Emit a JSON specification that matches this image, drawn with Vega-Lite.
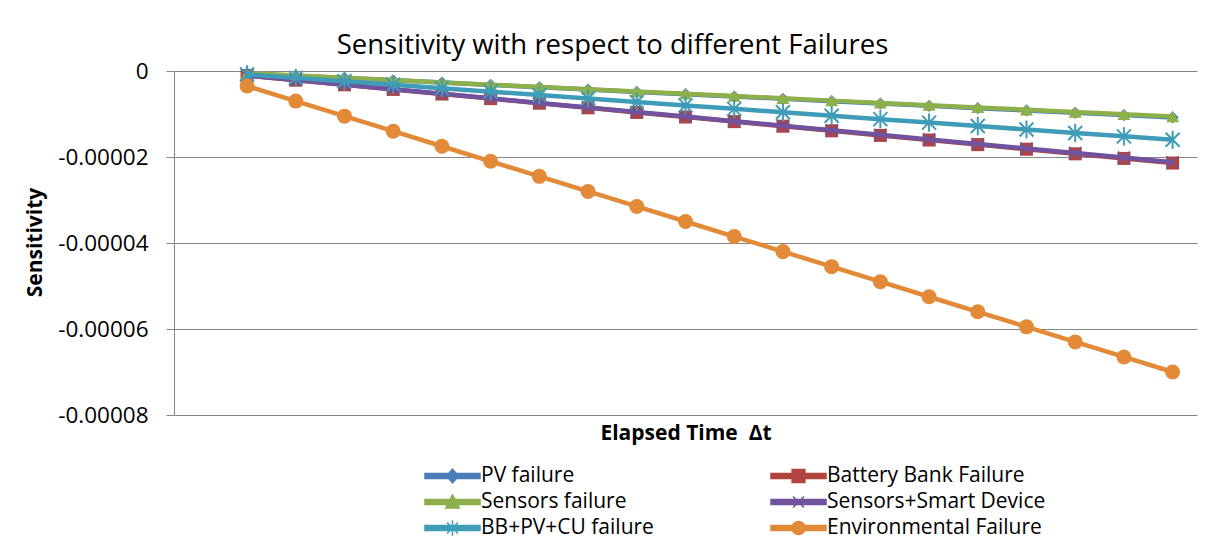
{
  "$schema": "https://vega.github.io/schema/vega-lite/v6.json",
  "width": 1023,
  "height": 344,
  "autosize": {"type": "none"},
  "padding": {"left": 174, "top": 71, "right": 16, "bottom": 128},
  "background": "white",
  "config": {
    "font": "Open Sans",
    "view": {"stroke": null}
  },
  "title": {
    "text": "Sensitivity with respect to different Failures",
    "fontSize": 27.5,
    "fontWeight": "normal",
    "color": "#000000",
    "anchor": "middle",
    "frame": "group",
    "dx": -73,
    "offset": -21,
    "baseline": "alphabetic"
  },
  "data": {
    "values": [
      {"t": 1, "PV failure": -0.00000054, "Battery Bank Failure": -0.00000107, "Sensors failure": -0.00000053, "Sensors+Smart Device": -0.00000106, "BB+PV+CU failure": -0.0000008, "Environmental Failure": -0.0000035},
      {"t": 2, "PV failure": -0.00000108, "Battery Bank Failure": -0.00000214, "Sensors failure": -0.00000106, "Sensors+Smart Device": -0.00000212, "BB+PV+CU failure": -0.0000016, "Environmental Failure": -0.000007},
      {"t": 3, "PV failure": -0.00000162, "Battery Bank Failure": -0.00000321, "Sensors failure": -0.00000159, "Sensors+Smart Device": -0.00000318, "BB+PV+CU failure": -0.0000024, "Environmental Failure": -0.0000105},
      {"t": 4, "PV failure": -0.00000216, "Battery Bank Failure": -0.00000428, "Sensors failure": -0.00000212, "Sensors+Smart Device": -0.00000424, "BB+PV+CU failure": -0.0000032, "Environmental Failure": -0.000014},
      {"t": 5, "PV failure": -0.0000027, "Battery Bank Failure": -0.00000535, "Sensors failure": -0.00000265, "Sensors+Smart Device": -0.0000053, "BB+PV+CU failure": -0.000004, "Environmental Failure": -0.0000175},
      {"t": 6, "PV failure": -0.00000324, "Battery Bank Failure": -0.00000642, "Sensors failure": -0.00000318, "Sensors+Smart Device": -0.00000636, "BB+PV+CU failure": -0.0000048, "Environmental Failure": -0.000021},
      {"t": 7, "PV failure": -0.00000378, "Battery Bank Failure": -0.00000749, "Sensors failure": -0.00000371, "Sensors+Smart Device": -0.00000742, "BB+PV+CU failure": -0.0000056, "Environmental Failure": -0.0000245},
      {"t": 8, "PV failure": -0.00000432, "Battery Bank Failure": -0.00000856, "Sensors failure": -0.00000424, "Sensors+Smart Device": -0.00000848, "BB+PV+CU failure": -0.0000064, "Environmental Failure": -0.000028},
      {"t": 9, "PV failure": -0.00000486, "Battery Bank Failure": -0.00000963, "Sensors failure": -0.00000477, "Sensors+Smart Device": -0.00000954, "BB+PV+CU failure": -0.0000072, "Environmental Failure": -0.0000315},
      {"t": 10, "PV failure": -0.0000054, "Battery Bank Failure": -0.0000107, "Sensors failure": -0.0000053, "Sensors+Smart Device": -0.0000106, "BB+PV+CU failure": -0.000008, "Environmental Failure": -0.000035},
      {"t": 11, "PV failure": -0.00000594, "Battery Bank Failure": -0.00001177, "Sensors failure": -0.00000583, "Sensors+Smart Device": -0.00001166, "BB+PV+CU failure": -0.0000088, "Environmental Failure": -0.0000385},
      {"t": 12, "PV failure": -0.00000648, "Battery Bank Failure": -0.00001284, "Sensors failure": -0.00000636, "Sensors+Smart Device": -0.00001272, "BB+PV+CU failure": -0.0000096, "Environmental Failure": -0.000042},
      {"t": 13, "PV failure": -0.00000702, "Battery Bank Failure": -0.00001391, "Sensors failure": -0.00000689, "Sensors+Smart Device": -0.00001378, "BB+PV+CU failure": -0.0000104, "Environmental Failure": -0.0000455},
      {"t": 14, "PV failure": -0.00000756, "Battery Bank Failure": -0.00001498, "Sensors failure": -0.00000742, "Sensors+Smart Device": -0.00001484, "BB+PV+CU failure": -0.0000112, "Environmental Failure": -0.000049},
      {"t": 15, "PV failure": -0.0000081, "Battery Bank Failure": -0.00001605, "Sensors failure": -0.00000795, "Sensors+Smart Device": -0.0000159, "BB+PV+CU failure": -0.000012, "Environmental Failure": -0.0000525},
      {"t": 16, "PV failure": -0.00000864, "Battery Bank Failure": -0.00001712, "Sensors failure": -0.00000848, "Sensors+Smart Device": -0.00001696, "BB+PV+CU failure": -0.0000128, "Environmental Failure": -0.000056},
      {"t": 17, "PV failure": -0.00000918, "Battery Bank Failure": -0.00001819, "Sensors failure": -0.00000901, "Sensors+Smart Device": -0.00001802, "BB+PV+CU failure": -0.0000136, "Environmental Failure": -0.0000595},
      {"t": 18, "PV failure": -0.00000972, "Battery Bank Failure": -0.00001926, "Sensors failure": -0.00000954, "Sensors+Smart Device": -0.00001908, "BB+PV+CU failure": -0.0000144, "Environmental Failure": -0.000063},
      {"t": 19, "PV failure": -0.00001026, "Battery Bank Failure": -0.00002033, "Sensors failure": -0.00001007, "Sensors+Smart Device": -0.00002014, "BB+PV+CU failure": -0.0000152, "Environmental Failure": -0.0000665},
      {"t": 20, "PV failure": -0.0000108, "Battery Bank Failure": -0.0000214, "Sensors failure": -0.0000106, "Sensors+Smart Device": -0.0000212, "BB+PV+CU failure": -0.000016, "Environmental Failure": -0.00007}
    ]
  },
  "transform": [
    {"fold": ["PV failure", "Battery Bank Failure", "Sensors failure", "Sensors+Smart Device", "BB+PV+CU failure", "Environmental Failure"], "as": ["series", "value"]}
  ],
  "encoding": {
    "x": {
      "field": "t",
      "type": "quantitative",
      "scale": {"domain": [-0.5, 20.5], "nice": false, "zero": false},
      "axis": {
        "title": "Elapsed Time \u00a0Δt",
        "labels": false,
        "ticks": false,
        "domain": false,
        "grid": false,
        "titleFontSize": 21,
        "titleFontWeight": "bold",
        "titleColor": "#000000",
        "titlePadding": 7
      }
    },
    "y": {
      "field": "value",
      "type": "quantitative",
      "scale": {"domain": [-0.00008, 0], "nice": false, "zero": false},
      "axis": {
        "title": "Sensitivity",
        "values": [0, -0.00002, -0.00004, -0.00006, -0.00008],
        "labelExpr": "datum.value == 0 ? '0' : '-' + format(-datum.value, '.5f')",
        "labelFontSize": 22.5,
        "labelColor": "#000000",
        "labelPadding": 18,
        "tickSize": 8,
        "tickColor": "#868686",
        "domainColor": "#868686",
        "gridColor": "#868686",
        "grid": true,
        "titleFontSize": 21,
        "titleFontWeight": "bold",
        "titleColor": "#000000",
        "titleX": -139,
        "titleY": 171,
        "titleAngle": -90,
        "titleAlign": "center",
        "titleBaseline": "middle"
      }
    },
    "color": {
      "field": "series",
      "type": "nominal",
      "scale": {
        "domain": ["PV failure", "Battery Bank Failure", "Sensors failure", "Sensors+Smart Device", "BB+PV+CU failure", "Environmental Failure"],
        "range": ["#4A7EBB", "#B0453F", "#8DB04A", "#70529E", "#3E9CB8", "#E38A38"]
      },
      "legend": {
        "title": null,
        "orient": "none",
        "legendX": 266.5,
        "legendY": 393,
        "direction": "horizontal",
        "columns": 2,
        "columnPadding": 113,
        "rowPadding": 4,
        "padding": 0,
        "labelFontSize": 21,
        "labelColor": "#000000",
        "labelOffset": 16.5,
        "labelLimit": 400,
        "symbolSize": 484,
        "symbolStrokeWidth": 1.5,
        "encode": {
          "symbols": {
            "update": {
              "shape": {"signal": "datum.value == 'PV failure' ? 'M-2.5,-0.23H2.5V0.23H-2.5Z M0,-0.62L0.55,0L0,0.62L-0.55,0Z' : datum.value == 'Battery Bank Failure' ? 'M-2.5,-0.23H2.5V0.23H-2.5Z M-0.58,-0.58H0.58V0.58H-0.58Z' : datum.value == 'Sensors failure' ? 'M-2.5,-0.23H2.5V0.23H-2.5Z M0,-0.65L0.62,0.55L-0.62,0.55Z' : datum.value == 'Sensors+Smart Device' ? 'M-2.5,-0.23H2.5V0.23H-2.5Z M-0.5,-0.5L0.5,0.5M-0.5,0.5L0.5,-0.5' : datum.value == 'BB+PV+CU failure' ? 'M-2.5,-0.23H2.5V0.23H-2.5Z M-0.5,-0.5L0.5,0.5M-0.5,0.5L0.5,-0.5M0,-0.7V0.7' : 'M-2.5,-0.23H2.5V0.23H-2.5Z M0.6,0A0.6,0.6 0 1,1 -0.6,0A0.6,0.6 0 1,1 0.6,0Z'"},
              "fill": {"signal": "scale('color', datum.value)"},
              "stroke": {"signal": "scale('color', datum.value)"},
              "strokeWidth": {"value": 1.5},
              "opacity": {"value": 1},
              "fillOpacity": {"value": 1},
              "strokeOpacity": {"value": 1}
            }
          }
        }
      }
    }
  },
  "layer": [
    {
      "transform": [{"filter": "datum.series == 'PV failure'"}],
      "layer": [
        {"mark": {"type": "line", "strokeWidth": 4.5}},
        {"mark": {"type": "point", "shape": "diamond", "filled": true, "size": 150, "opacity": 1}}
      ]
    },
    {
      "transform": [{"filter": "datum.series == 'Battery Bank Failure'"}],
      "layer": [
        {"mark": {"type": "line", "strokeWidth": 4.5}},
        {"mark": {"type": "point", "shape": "square", "filled": true, "size": 170, "opacity": 1}}
      ]
    },
    {
      "transform": [{"filter": "datum.series == 'Sensors failure'"}],
      "layer": [
        {"mark": {"type": "line", "strokeWidth": 4.5}},
        {"mark": {"type": "point", "shape": "triangle-up", "filled": true, "size": 170, "opacity": 1}}
      ]
    },
    {
      "transform": [{"filter": "datum.series == 'Sensors+Smart Device'"}],
      "layer": [
        {"mark": {"type": "line", "strokeWidth": 4.5}},
        {"mark": {"type": "point", "shape": "M-1,-1L1,1M-1,1L1,-1", "filled": false, "size": 144, "strokeWidth": 1.5, "opacity": 1}}
      ]
    },
    {
      "transform": [{"filter": "datum.series == 'BB+PV+CU failure'"}],
      "layer": [
        {"mark": {"type": "line", "strokeWidth": 4.5}},
        {"mark": {"type": "point", "shape": "M-1,-1L1,1M-1,1L1,-1M0,-1.3V1.3", "filled": false, "size": 196, "strokeWidth": 2, "opacity": 1}}
      ]
    },
    {
      "transform": [{"filter": "datum.series == 'Environmental Failure'"}],
      "layer": [
        {"mark": {"type": "line", "strokeWidth": 4.5}},
        {"mark": {"type": "point", "shape": "circle", "filled": true, "size": 225, "opacity": 1}}
      ]
    }
  ]
}
